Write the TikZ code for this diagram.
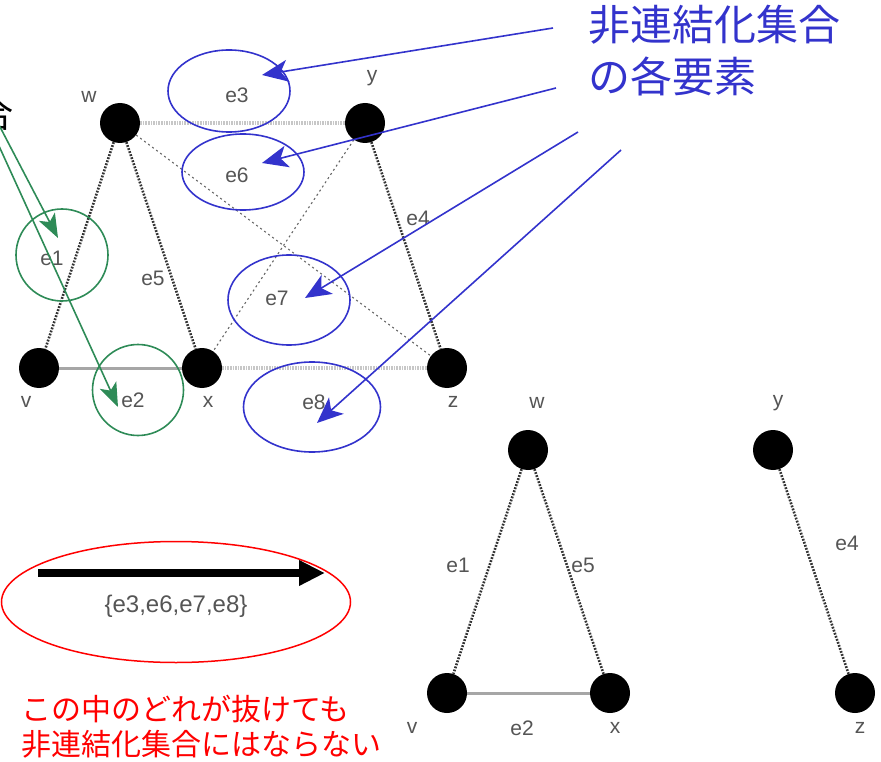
\documentclass[tikz,border=0pt]{standalone}
\usepackage{fontspec}
\setsansfont{Liberation Sans}
\newfontfamily\jpfont{Noto Sans CJK JP}
\usetikzlibrary{arrows.meta,shapes.geometric}
\definecolor{setblue}{RGB}{51,51,204}
\definecolor{cutgreen}{RGB}{46,139,87}
\definecolor{labgray}{RGB}{85,85,85}
\def\vertexsize{40pt}

\begin{document}
\begin{tikzpicture}[x=1pt,y=-1pt,font=\sffamily]
    \tikzstyle{vertex}=[circle,fill=black,minimum size=\vertexsize,inner sep=0pt]
    \tikzstyle{lab}=[text=labgray,font=\sffamily\fontsize{21}{21}\selectfont,inner sep=0pt]
    \tikzstyle{darkdot}=[draw=black!80,line width=2.6pt,dash pattern=on 1.8pt off 1.4pt]
    \tikzstyle{lightdot}=[draw=black!22,line width=4pt,dash pattern=on 1.6pt off 1pt]
    \tikzstyle{thindot}=[draw=black!60,line width=1.1pt,dash pattern=on 2pt off 3pt]
    \tikzstyle{solidgray}=[draw=black!35,line width=3pt]
    \tikzstyle{bluering}=[ellipse,draw=setblue,line width=1.6pt,inner sep=0pt]
    \tikzstyle{greenring}=[circle,draw=cutgreen,line width=1.6pt,inner sep=0pt]
    \tikzstyle{bluearrow}=[draw=setblue,line width=1.6pt,-{Stealth[length=26pt,width=22pt,inset=7pt]}]
    \tikzstyle{greenarrow}=[draw=cutgreen,line width=1.6pt,-{Stealth[length=24pt,width=18pt,inset=6pt]}]

    \useasboundingbox (0,0) rectangle (881,762);
    \clip (0,0) rectangle (881,762);

    % original graph
    \node[vertex] (w) at (120,123) {};
    \node[vertex] (y) at (365,123) {};
    \node[vertex] (v) at (39,368) {};
    \node[vertex] (x) at (202,368) {};
    \node[vertex] (z) at (447,368) {};

    \draw[lightdot] (w) -- (y);
    \draw[lightdot] (x) -- (z);
    \draw[darkdot] (w) -- (v);
    \draw[darkdot] (w) -- (x);
    \draw[darkdot] (y) -- (z);
    \draw[thindot] (w) -- (z);
    \draw[thindot] (y) -- (x);
    \draw[solidgray] (v) -- (x);

    \node[lab] (lw) at (89,97) {w};
    \node[lab] (ly) at (372,78) {y};
    \node[lab] (lv) at (26,402) {v};
    \node[lab] (lx) at (208,402) {x};
    \node[lab] (lz) at (453,402) {z};

    \node[lab] (le3) at (237,95) {e3};
    \node[lab] (le6) at (237,175) {e6};
    \node[lab] (le1) at (52,258) {e1};
    \node[lab] (le5) at (153,278) {e5};
    \node[lab] (le4) at (418,218) {e4};
    \node[lab] (le7) at (277,298) {e7};
    \node[lab] (le2) at (133,400) {e2};
    \node[lab] (le8) at (314,402) {e8};

    % graph after the cut
    \node[vertex] (w2) at (528,450) {};
    \node[vertex] (y2) at (773,450) {};
    \node[vertex] (v2) at (447,693) {};
    \node[vertex] (x2) at (610,693) {};
    \node[vertex] (z2) at (855,693) {};

    \draw[darkdot] (w2) -- (v2);
    \draw[darkdot] (w2) -- (x2);
    \draw[darkdot] (y2) -- (z2);
    \draw[solidgray] (v2) -- (x2);

    \node[lab] (lw2) at (537,403) {w};
    \node[lab] (ly2) at (778,403) {y};
    \node[lab] (lv2) at (412,728) {v};
    \node[lab] (lx2) at (615,728) {x};
    \node[lab] (lz2) at (860,728) {z};
    \node[lab] (le12) at (458,565) {e1};
    \node[lab] (le52) at (583,565) {e5};
    \node[lab] (le42) at (847,543) {e4};
    \node[lab] (le22) at (522,728) {e2};

    % cut set elements
    \node[bluering,minimum width=122pt,minimum height=82pt] (s3) at (229,91) {};
    \node[bluering,minimum width=122pt,minimum height=76pt] (s6) at (243,172) {};
    \node[bluering,minimum width=122pt,minimum height=90pt] (s7) at (289,300) {};
    \node[bluering,minimum width=137pt,minimum height=90pt] (s8) at (312,407) {};
    \node[greenring,minimum size=92pt] (g1) at (62,255) {};
    \node[greenring,minimum size=91pt] (g2) at (138,390) {};

    \node[text=setblue,font=\jpfont\fontsize{42}{52}\selectfont,align=left,anchor=north west,inner sep=0pt] (title) at (588,5) {非連結化集合\\の各要素};
    \node[font=\jpfont\fontsize{36}{36}\selectfont,inner sep=0pt] (gtitle) at (-4,114) {合};

    \coordinate (b3) at (553,28);
    \coordinate (b6) at (556,88);
    \coordinate (b7) at (578,132);
    \coordinate (b8) at (621,150);
    \coordinate (t3) at (262,75);
    \coordinate (t6) at (262,163);
    \coordinate (t7) at (305,298);
    \coordinate (t8) at (317,423);
    \draw[bluearrow] (b3) -- (t3);
    \draw[bluearrow] (b6) -- (t6);
    \draw[bluearrow] (b7) -- (t7);
    \draw[bluearrow] (b8) -- (t8);

    \coordinate (gs1) at (-1,125);
    \coordinate (gs2) at (-1,146);
    \coordinate (gt1) at (58,238);
    \coordinate (gt2) at (118,407);
    \draw[greenarrow] (gs1) -- (gt1);
    \draw[greenarrow] (gs2) -- (gt2);

    % the cut set
    \node[ellipse,draw=red,line width=1.5pt,minimum width=349pt,minimum height=121pt,inner sep=0pt] (cutring) at (176,602) {};
    \coordinate (cs) at (38,573);
    \coordinate (ce) at (325,573);
    \draw[line width=8pt,-{Triangle[length=26pt,width=24pt]}] (cs) -- (ce);
    \node[lab,font=\sffamily\fontsize{24}{24}\selectfont] (cutset) at (176,606) {\{e3,e6,e7,e8\}};

    \node[text=red,font=\jpfont\fontsize{30}{35}\selectfont,align=left,anchor=north west,inner sep=0pt] (note) at (21,695) {この中のどれが抜けても\\非連結化集合にはならない};
\end{tikzpicture}
\end{document}
